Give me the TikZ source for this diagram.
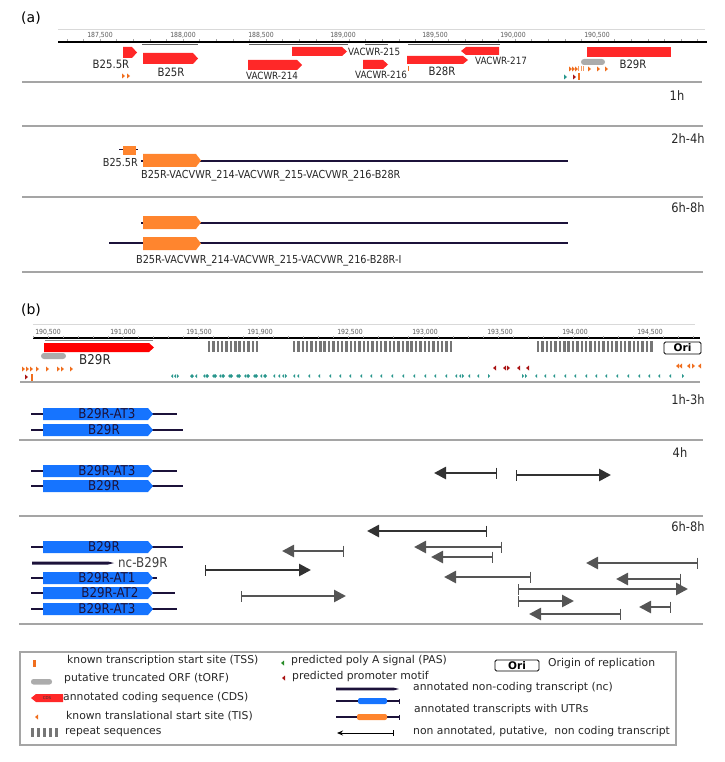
\documentclass[tikz,border=0pt]{standalone}
\usepackage{fontspec}
\setmainfont{DejaVu Sans}
\newfontfamily\condfont[FakeStretch=0.88]{DejaVu Sans}
\usetikzlibrary{arrows.meta}

\definecolor{cdsred}{RGB}{255,40,40}
\definecolor{purered}{RGB}{255,0,0}
\definecolor{utrorange}{RGB}{255,133,46}
\definecolor{utrblue}{RGB}{22,116,255}
\definecolor{navy}{RGB}{28,18,58}
\definecolor{sepgray}{RGB}{165,165,165}
\definecolor{spangray}{RGB}{95,95,95}
\definecolor{orfgray}{RGB}{172,172,172}
\definecolor{repgray}{RGB}{118,118,118}
\definecolor{tisorange}{RGB}{240,110,30}
\definecolor{pasteal}{RGB}{40,150,140}
\definecolor{pasgreen}{RGB}{40,140,40}
\definecolor{promred}{RGB}{170,20,20}
\definecolor{arrgray}{RGB}{85,85,85}
\definecolor{arrdark}{RGB}{50,50,50}

% feature boxes with a pointed end: x1, x2, ytop, ybottom, colour
\newcommand{\boxright}[5]{\fill[#5] (#1,#3) -- ({#2-5},#3) -- (#2,{(#3+#4)/2}) -- ({#2-5},#4) -- (#1,#4) -- cycle;}
\newcommand{\boxleft}[5]{\fill[#5] ({#1+5},#3) -- (#2,#3) -- (#2,#4) -- ({#1+5},#4) -- (#1,{(#3+#4)/2}) -- cycle;}
% small site markers: x, y, colour
\newcommand{\tisr}[3]{\fill[#3] (#1,{#2-2.5}) -- ({#1+3},#2) -- (#1,{#2+2.5}) -- cycle;}
\newcommand{\tisl}[3]{\fill[#3] ({#1+3},{#2-2.5}) -- (#1,#2) -- ({#1+3},{#2+2.5}) -- cycle;}
% thin poly A marks
\newcommand{\pasl}[1]{\fill[pasteal] ({#1+2},374) -- (#1,376) -- ({#1+2},378) -- cycle;}
\newcommand{\pasr}[1]{\fill[pasteal] (#1,374) -- ({#1+2},376) -- (#1,378) -- cycle;}
% repeat block: x start, number of bars
\newcommand{\repeatblock}[2]{\foreach \r in {1,...,#2} \fill[repgray] ({#1+(\r-1)*4.35},341) rectangle +(2.4,11);}

\begin{document}
\begin{tikzpicture}[x=1pt, y=-1pt,
  sep/.style={draw=sepgray, line width=1.2pt},
  ruler/.style={draw=black, line width=1.2pt},
  rulertop/.style={draw=black!15, line width=0.8pt},
  span/.style={draw=spangray, line width=1.6pt},
  tick/.style={font=\condfont\fontsize{7}{8}\selectfont, text=black!65, inner sep=0pt},
  glabel/.style={font=\condfont\fontsize{11.5}{12}\selectfont, text=black!85, inner sep=0pt},
  slabel/.style={font=\condfont\fontsize{10}{11}\selectfont, text=black!85, inner sep=0pt},
  tlabel/.style={font=\condfont\fontsize{11}{12}\selectfont, text=black!85, inner sep=0pt, anchor=west},
  timelabel/.style={font=\condfont\fontsize{13}{14}\selectfont, text=black!85, inner sep=0pt},
  utr/.style={draw=navy, line width=2pt},
  blabel/.style={font=\condfont\fontsize{13.5}{14}\selectfont, text=navy, inner sep=0pt},
  ncarrow/.style={draw=arrgray, line width=2.6pt, {Bar[width=11pt,line width=1.2pt]}-{Triangle[length=12pt,width=12pt]}},
  ncdark/.style={ncarrow, draw=arrdark},
  legtext/.style={font=\fontsize{10.8}{13}\selectfont, text=black!85, anchor=west, inner sep=0pt},
  oribox/.style={draw=black, fill=white, rounded corners=1.5pt, line width=0.9pt, inner sep=0pt, font=\bfseries\fontsize{10.5}{11}\selectfont}
]
\useasboundingbox (0,0) rectangle (724,762);

% ---------------- panel (a) ----------------
\node[font=\fontsize{14}{16}\selectfont, inner sep=0pt] (pa) at (31,18) {(a)};

% ruler
\draw[rulertop] (58,29) -- (705,29);
\draw[ruler] (58,42) -- (707,42);
\foreach \d in {-200,-100,...,3600}
  \draw[black!35] ({100+\d*0.166},39.5) -- ++(0,2);
\foreach \p/\t [count=\i] in {100/{187,500}, 183/{188,000}, 261/{188,500}, 343/{189,000}, 435/{189,500}, 513/{190,000}, 597/{190,500}}
  \node[tick] (ta\i) at (\p,35) {\t};

% gene spans
\draw[span] (142,44.5) -- (198,44.5);
\draw[span] (249,44.5) -- (348,44.5);
\draw[span] (365,44.5) -- (388,44.5);
\draw[span] (408,44.5) -- (500,44.5);

% annotated CDS
\boxright{123}{137}{47}{58}{cdsred}
\boxright{143}{198}{53}{64}{cdsred}
\boxright{248}{302}{60}{70}{cdsred}
\boxright{292}{347}{47}{56}{cdsred}
\boxright{363}{388}{60}{69}{cdsred}
\boxright{407}{468}{56}{64}{cdsred}
\boxleft{461}{499}{47}{55}{cdsred}
\fill[cdsred] (587,47) rectangle (671,57);
\fill[orfgray, rounded corners=3pt] (581,59) rectangle (605,65);

% sites
\tisr{122}{76}{tisorange} \tisr{127}{76}{tisorange}
\fill[tisorange] (407.5,66.5) rectangle +(1.5,5);
\foreach \x in {569,572,575,588,597,605} {\tisr{\x}{69}{tisorange}}
\foreach \x in {578,580.5,583} \fill[tisorange!70] (\x,66.5) rectangle +(1.2,5);
\tisr{564}{77}{pasteal}
\tisr{573}{77}{promred}
\fill[tisorange] (577.5,73.5) rectangle +(2,7);

% gene labels
\node[glabel] (lb255) at (111,64) {B25.5R};
\node[glabel] (lb25) at (171,72) {B25R};
\node[slabel] (lv214) at (272,76) {VACWR-214};
\node[slabel, anchor=west] (lv215) at (348,52) {VACWR-215};
\node[slabel] (lv216) at (381,75) {VACWR-216};
\node[glabel] (lb28) at (442,71) {B28R};
\node[slabel] (lv217) at (501,61) {VACWR-217};
\node[glabel] (lb29) at (633,64) {B29R};

\draw[sep] (22,82) -- (702,82);
\node[timelabel] (ta1h) at (677,96) {1h};
\draw[sep] (22,126) -- (703,126);

% 2h-4h
\node[timelabel] (ta24) at (688,139) {2h-4h};
\draw[utr, line width=1pt] (119,150) -- (138,150);
\fill[utrorange] (123,146) rectangle (136,155);
\node[glabel, font=\condfont\fontsize{11}{12}\selectfont, anchor=east] (l255b) at (138,162) {B25.5R};
\draw[utr] (141,161) -- (568,161);
\boxright{143}{201}{154}{167}{utrorange}
\node[tlabel] (lpoly1) at (141,176) {B25R-VACVWR\_214-VACVWR\_215-VACVWR\_216-B28R};
\draw[sep] (22,197) -- (703,197);

% 6h-8h
\node[timelabel] (ta68) at (688,208) {6h-8h};
\draw[utr] (141,223) -- (568,223);
\boxright{143}{201}{216}{229}{utrorange}
\draw[utr] (109,243) -- (568,243);
\boxright{143}{201}{237}{250}{utrorange}
\node[tlabel] (lpoly2) at (136,261) {B25R-VACVWR\_214-VACVWR\_215-VACVWR\_216-B28R-I};
\draw[sep] (22,272) -- (703,272);

% ---------------- panel (b) ----------------
\node[font=\fontsize{14}{16}\selectfont, inner sep=0pt] (pb) at (31,310) {(b)};

% ruler
\draw[rulertop] (33,324) -- (695,324);
\draw[ruler] (33,338) -- (700,338);
\foreach \x in {33,48,...,693}
  \draw[black!35] (\x,335.5) -- ++(0,2);
\foreach \p/\t [count=\i] in {48/{190,500}, 123/{191,000}, 199/{191,500}, 260/{191,900}, 350/{192,500}, 425/{193,000}, 500/{193,500}, 575/{194,000}, 650/{194,500}}
  \node[tick] (tb\i) at (\p,332) {\t};

\draw[span, draw=black!45] (45,340.5) -- (153,340.5);
\boxright{44}{154}{343}{352}{purered}
\fill[orfgray, rounded corners=3pt] (41,353) rectangle (66,359);
\node[glabel, font=\condfont\fontsize{13.5}{14}\selectfont] (lb29b) at (95,360) {B29R};

% repeats and origin
\repeatblock{208}{12}
\repeatblock{293}{37}
\repeatblock{537}{27}
\node[oribox, minimum width=37pt, minimum height=12pt] (ori) at (682.5,348) {Ori};

% sites
\foreach \x in {22,26,30,36,46,57,61,70} {\tisr{\x}{369}{tisorange}}
\tisr{25}{377}{promred}
\fill[tisorange] (31,373.5) rectangle +(2,7);
\tisl{493}{368}{promred} \tisl{503}{368}{promred} \tisr{507}{368}{promred}
\tisl{517}{368}{promred} \tisl{526}{368}{promred}
\tisl{676}{366}{tisorange} \tisl{679}{366}{tisorange} \tisl{687}{366}{tisorange}
\tisr{692}{366}{tisorange} \tisl{698}{366}{tisorange}
\foreach \x in {171,174,190,195,203,205,212,213,219,221,228,229,236,237,244,246,253,254,260,263,273,278,282,293,297,308,318,329,339,349,360,370,380,391,402,413,424,434,445,455,459,468,477,535,544,553,564,574,585,595,605,616,627,638,648,658,669}
  {\pasl{\x}}
\foreach \x in {177,192,207,215,223,231,239,248,256,265,285,462,488,522,525,682}
  {\pasr{\x}}
\draw[sep] (20,382) -- (700,382);

% 1h-3h
\node[timelabel] (tb13) at (688,400) {1h-3h};
\draw[utr] (31,414) -- (177,414);
\boxright{43}{153}{408}{420}{utrblue}
\node[blabel] (at3a) at (107,414) {B29R-AT3};
\draw[utr] (31,430) -- (183,430);
\boxright{43}{153}{424}{436}{utrblue}
\node[blabel] (b29a) at (104,430) {B29R};
\draw[sep] (19,440) -- (703,440);

% 4h
\node[timelabel] (tb4) at (680,453) {4h};
\draw[utr] (31,471) -- (177,471);
\boxright{43}{153}{465}{477}{utrblue}
\node[blabel] (at3b) at (107,471) {B29R-AT3};
\draw[utr] (31,486) -- (183,486);
\boxright{43}{153}{480}{492}{utrblue}
\node[blabel] (b29b) at (104,486) {B29R};
\draw[ncdark] (497,473) -- (434,473);
\draw[ncdark] (516,475) -- (611,475);
\draw[sep] (19,516) -- (703,516);

% 6h-8h
\node[timelabel] (tb68) at (688,527) {6h-8h};
\draw[utr] (31,547) -- (183,547);
\boxright{43}{153}{541}{553}{utrblue}
\node[blabel] (b29c) at (104,547) {B29R};
\fill[navy] (32,561.5) -- (108,561.5) -- (114,563) -- (108,564.5) -- (32,564.5) -- cycle;
\node[blabel, text=black!75, anchor=west] (ncb29) at (118,563) {nc-B29R};
\draw[utr] (31,578) -- (157,578);
\boxright{43}{153}{572}{584}{utrblue}
\node[blabel] (at1) at (107,578) {B29R-AT1};
\draw[utr] (31,593) -- (175,593);
\boxright{43}{153}{587}{599}{utrblue}
\node[blabel] (at2) at (110,593) {B29R-AT2};
\draw[utr] (31,609) -- (177,609);
\boxright{43}{153}{603}{615}{utrblue}
\node[blabel] (at3c) at (107,609) {B29R-AT3};

% putative non coding transcripts
\draw[ncdark] (487,531) -- (367,531);
\draw[ncarrow] (344,551) -- (282,551);
\draw[ncarrow] (502,547) -- (414,547);
\draw[ncarrow] (493,557) -- (431,557);
\draw[ncdark] (205,570) -- (311,570);
\draw[ncarrow] (698,563) -- (586,563);
\draw[ncarrow] (531,577) -- (444,577);
\draw[ncarrow] (681,579) -- (616,579);
\draw[ncarrow] (518,589) -- (688,589);
\draw[ncarrow] (241,596) -- (346,596);
\draw[ncarrow] (518,601) -- (574,601);
\draw[ncarrow] (671,607) -- (639,607);
\draw[ncarrow] (621,614) -- (529,614);
\draw[sep] (19,624) -- (703,624);

% ---------------- legend ----------------
\draw[draw=sepgray, line width=1.3pt] (20,652) rectangle (676,745);

\fill[tisorange] (33,660) rectangle (35.5,667);
\node[legtext] (lg1) at (67,661) {known transcription start site (TSS)};
\fill[orfgray, rounded corners=2.5pt] (31,679) rectangle (52,684.5);
\node[legtext] (lg2) at (64,679) {putative truncated ORF (tORF)};
\boxleft{31}{63}{694}{702}{cdsred}
\node[font=\fontsize{4}{5}\selectfont, text=black!80, inner sep=0pt] (lgcds) at (47,698) {CDS};
\node[legtext] (lg3) at (63,698) {annotated coding sequence (CDS)};
\tisl{35}{717}{tisorange}
\node[legtext] (lg4) at (66,716) {known translational start site (TIS)};
\foreach \k in {0,...,4} \fill[repgray] ({31+\k*6},728) rectangle +(3,9);
\node[legtext] (lg5) at (65,732) {repeat sequences};

\tisl{281}{663}{pasgreen}
\node[legtext] (lg6) at (291,661) {predicted poly A signal (PAS)};
\tisl{282}{678}{promred}
\node[legtext] (lg7) at (292,677) {predicted promoter motif};

\fill[navy] (336,687.7) -- (394,687.7) -- (399,689) -- (394,690.3) -- (336,690.3) -- cycle;
\node[legtext] (lg8) at (413,688) {annotated non-coding transcript (nc)};
\draw[navy, line width=1.8pt] (336,701) -- (399,701);
\draw[navy, line width=0.8pt] (399,698.5) -- (399,703.5);
\fill[utrblue, rounded corners=2pt] (358,698) rectangle (387,704);
\draw[navy, line width=1.8pt] (336,717) -- (399,717);
\draw[navy, line width=0.8pt] (399,714.5) -- (399,719.5);
\fill[utrorange, rounded corners=2pt] (357,714) rectangle (387,720);
\node[legtext] (lg9) at (414,710) {annotated transcripts with UTRs};
\draw[black, line width=1pt, {Bar[width=6pt]}-{Stealth[length=6pt,width=5pt]}] (394,733) -- (337,733);
\node[legtext] (lg10) at (413,732) {non annotated, putative,\ \ non coding transcript};

\node[oribox, minimum width=44pt, minimum height=11pt] (orileg) at (517,665.5) {Ori};
\node[legtext] (lg11) at (548,664) {Origin of replication};

\end{tikzpicture}
\end{document}
